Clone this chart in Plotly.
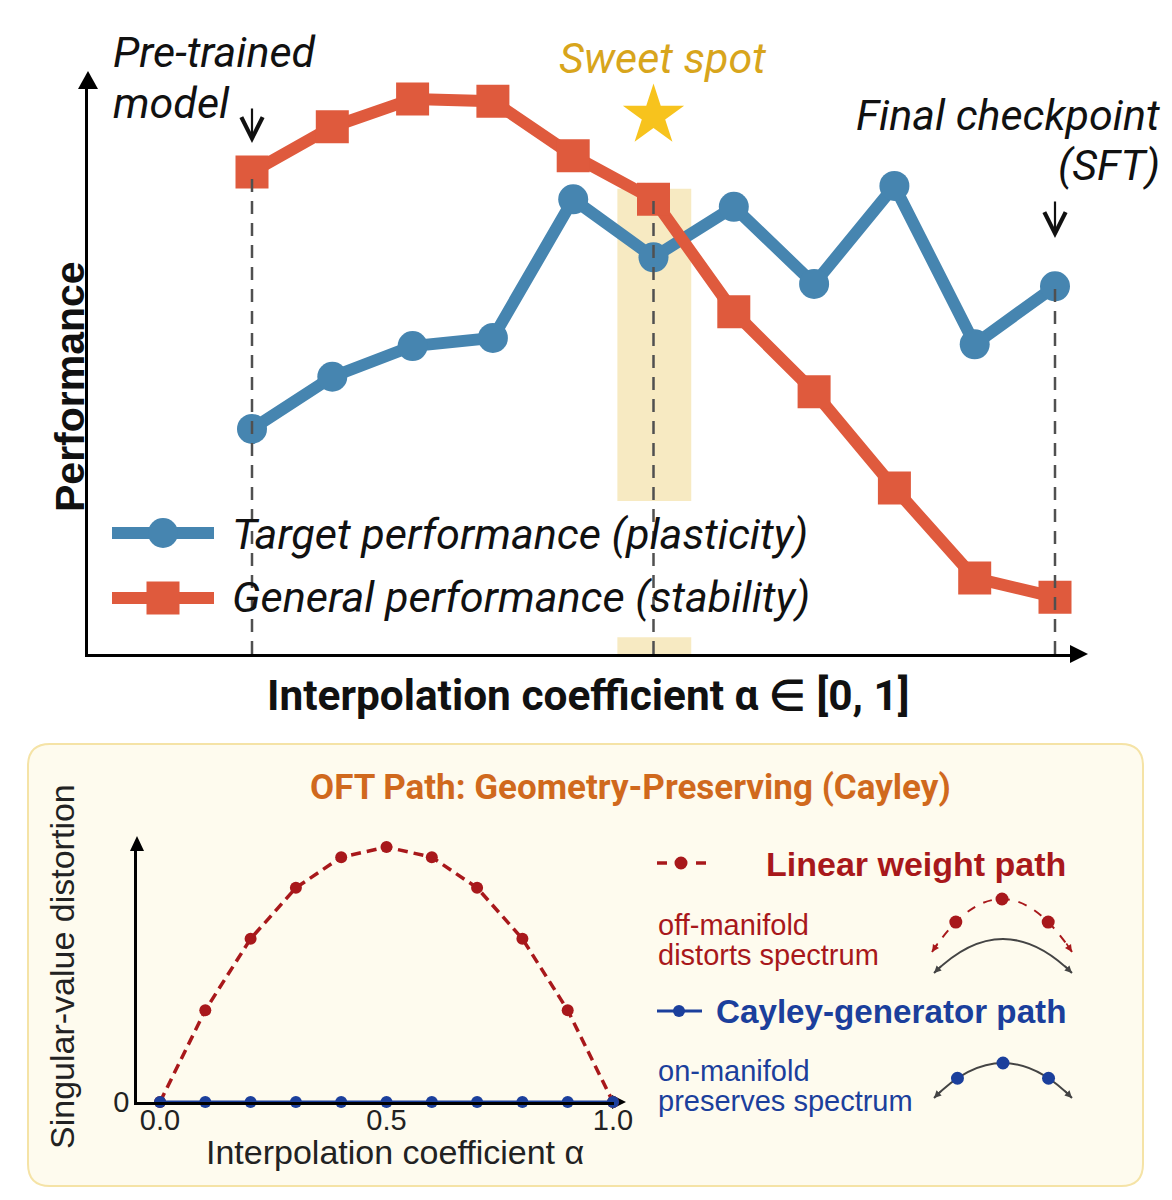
import plotly.graph_objects as go

# the page keeps the browser's 8px body margin, so the figure is drawn 8px in
OFF = 8
FW, FH = 1172 - 2 * OFF, 1200 - 2 * OFF

# interpolation coefficient alpha, 11 checkpoints
ALPHA = [0.0, 0.1, 0.2, 0.3, 0.4, 0.5, 0.6, 0.7, 0.8, 0.9, 1.0]
TARGET_PERF = [0.388, 0.478, 0.531, 0.545, 0.784, 0.684, 0.771, 0.638, 0.807, 0.534, 0.634]
GENERAL_PERF = [0.831, 0.909, 0.957, 0.953, 0.859, 0.784, 0.590, 0.452, 0.286, 0.131, 0.098]
SWEET_SPOT = 0.5
SWEET_BAND = [0.455, 0.547]
STAR_LEVEL = 0.928

# bottom panel: singular-value distortion along both paths
LINEAR_DIST = [0.0, 0.36, 0.64, 0.84, 0.96, 1.0, 0.96, 0.84, 0.64, 0.36, 0.0]
CAYLEY_DIST = [0.0, 0.0, 0.0, 0.0, 0.0, 0.0, 0.0, 0.0, 0.0, 0.0, 0.0]
BOTTOM_TICKS = [0.0, 0.5, 1.0]
BOTTOM_TICK_TEXT = ["0.0", "0.5", "1.0"]

BLUE = "#4685b0"
RED = "#df5a3d"
GOLD = "#d8a51c"
STAR = "#f7c31d"
DARK_RED = "#a8181b"
DARK_BLUE = "#1b3f9c"
ORANGE = "#d0691d"
INK = "#111111"
GREY = "#444444"


def fx(p):
    return (p - OFF) / FW


def fy(p):
    return 1 - (p - OFF) / FH


def bez(p0, c, p1, t):
    return ((1 - t) ** 2 * p0[0] + 2 * t * (1 - t) * c[0] + t ** 2 * p1[0],
            (1 - t) ** 2 * p0[1] + 2 * t * (1 - t) * c[1] + t ** 2 * p1[1])


fig = go.Figure()

# ---- top chart ----
fig.add_trace(go.Scatter(
    x=ALPHA, y=TARGET_PERF, mode="lines+markers", xaxis="x", yaxis="y",
    line=dict(color=BLUE, width=12), marker=dict(color=BLUE, size=30, symbol="circle"),
    cliponaxis=False, showlegend=False,
))
fig.add_trace(go.Scatter(
    x=ALPHA, y=GENERAL_PERF, mode="lines+markers", xaxis="x", yaxis="y",
    line=dict(color=RED, width=12), marker=dict(color=RED, size=33, symbol="square"),
    cliponaxis=False, showlegend=False,
))
fig.add_trace(go.Scatter(
    x=[SWEET_SPOT], y=[STAR_LEVEL], mode="markers", xaxis="x", yaxis="y",
    marker=dict(color=STAR, size=46, symbol="star", line=dict(width=0)),
    cliponaxis=False, showlegend=False,
))

# ---- bottom chart ----
fig.add_trace(go.Scatter(
    x=ALPHA, y=LINEAR_DIST, mode="lines+markers", xaxis="x2", yaxis="y2",
    line=dict(color=DARK_RED, width=3.5, dash="10px,6px"), marker=dict(color=DARK_RED, size=12),
    cliponaxis=False, showlegend=False,
))
fig.add_trace(go.Scatter(
    x=ALPHA, y=CAYLEY_DIST, mode="lines+markers", xaxis="x2", yaxis="y2",
    line=dict(color=DARK_BLUE, width=3), marker=dict(color=DARK_BLUE, size=12),
    cliponaxis=False, showlegend=False,
))

shapes = []

# bottom panel background box (rounded)
bx0, by0, bx1, by1, r = 28, 744, 1143, 1186, 22
box_path = (
    f"M {fx(bx0 + r)},{fy(by0)} L {fx(bx1 - r)},{fy(by0)} Q {fx(bx1)},{fy(by0)} {fx(bx1)},{fy(by0 + r)} "
    f"L {fx(bx1)},{fy(by1 - r)} Q {fx(bx1)},{fy(by1)} {fx(bx1 - r)},{fy(by1)} "
    f"L {fx(bx0 + r)},{fy(by1)} Q {fx(bx0)},{fy(by1)} {fx(bx0)},{fy(by1 - r)} "
    f"L {fx(bx0)},{fy(by0 + r)} Q {fx(bx0)},{fy(by0)} {fx(bx0 + r)},{fy(by0)} Z"
)
shapes.append(dict(type="path", path=box_path, xref="paper", yref="paper",
                   fillcolor="#fefbee", line=dict(color="#f5e3a6", width=2), layer="below"))

# sweet spot band (broken behind the legend)
for y0, y1 in [(0.0, 0.029), (0.264, 0.802)]:
    shapes.append(dict(type="rect", xref="x", yref="y", x0=SWEET_BAND[0], x1=SWEET_BAND[1], y0=y0, y1=y1,
                       fillcolor="#f7eac2", line=dict(width=0), layer="below"))

# dashed drop lines at pre-trained, sweet spot and final checkpoint
for xv, yv in [(ALPHA[0], GENERAL_PERF[0]), (ALPHA[5], GENERAL_PERF[5]), (ALPHA[-1], TARGET_PERF[-1])]:
    shapes.append(dict(type="line", xref="x", yref="y", x0=xv, x1=xv, y0=0, y1=yv,
                       line=dict(color="#505050", width=2.5, dash="13px,9px"), layer="above"))


# axis arrowheads
def tri(tip, d, size=10, length=18):
    x, y = tip
    if d == "up":
        pts = [(x, y), (x - size, y + length), (x + size, y + length)]
    else:
        pts = [(x, y), (x - length, y - size), (x - length, y + size)]
    p = "M " + " L ".join(f"{fx(a)},{fy(b)}" for a, b in pts) + " Z"
    return dict(type="path", path=p, xref="paper", yref="paper", fillcolor="black",
                line=dict(width=0), layer="below")


shapes.append(tri((88, 71), "up"))
shapes.append(tri((1088, 654), "right", size=9, length=18))
shapes.append(tri((137, 836), "up", size=7, length=15))
shapes.append(tri((626, 1102), "right", size=7, length=14))

# top legend glyphs
for yc, col, kind in [(533, BLUE, "circle"), (598, RED, "rect")]:
    shapes.append(dict(type="line", xref="paper", yref="paper", x0=fx(112), x1=fx(214), y0=fy(yc), y1=fy(yc),
                       line=dict(color=col, width=12)))
    hs = 15 if kind == "circle" else 16.5
    shapes.append(dict(type=kind, xref="paper", yref="paper", x0=fx(163 - hs), x1=fx(163 + hs),
                       y0=fy(yc + hs), y1=fy(yc - hs), fillcolor=col, line=dict(width=0)))

# bottom legend glyphs
for xa, xb in [(657, 667), (696, 706)]:
    shapes.append(dict(type="line", xref="paper", yref="paper", x0=fx(xa), x1=fx(xb), y0=fy(863), y1=fy(863),
                       line=dict(color=DARK_RED, width=3.5)))
shapes.append(dict(type="line", xref="paper", yref="paper", x0=fx(657), x1=fx(702), y0=fy(1011), y1=fy(1011),
                   line=dict(color=DARK_BLUE, width=3)))


def dot(x, y, col, rad=6.5):
    return dict(type="circle", xref="paper", yref="paper", x0=fx(x - rad), x1=fx(x + rad),
                y0=fy(y + rad), y1=fy(y - rad), fillcolor=col, line=dict(width=0))


shapes.append(dot(681, 863, DARK_RED))
shapes.append(dot(679, 1011, DARK_BLUE, 6))

# small arc illustrations
arcs = [
    ((932, 952), (1002, 846), (1072, 952), DARK_RED, "dash", DARK_RED),
    ((934, 973), (1003, 905), (1072, 973), GREY, "solid", None),
    ((934, 1098), (1003, 1028), (1072, 1098), GREY, "solid", DARK_BLUE),
]
annotations = []
for p0, c, p1, col, dash, dcol in arcs:
    path = f"M {fx(p0[0])},{fy(p0[1])} Q {fx(c[0])},{fy(c[1])} {fx(p1[0])},{fy(p1[1])}"
    shapes.append(dict(type="path", path=path, xref="paper", yref="paper",
                       line=dict(color=col, width=2, dash=dash)))
    if dcol:
        for t in (0.17, 0.5, 0.83):
            bxp, byp = bez(p0, c, p1, t)
            shapes.append(dot(bxp, byp, dcol, 6.5))
    for end in (p0, p1):
        dx, dy = end[0] - c[0], end[1] - c[1]
        n = (dx * dx + dy * dy) ** 0.5
        annotations.append(dict(x=fx(end[0]), y=fy(end[1]), xref="paper", yref="paper", text="",
                                showarrow=True, arrowhead=2, arrowsize=0.9, arrowwidth=1.6, arrowcolor=col,
                                ax=-dx / n * 12, ay=-dy / n * 12))


def label(text, x, y, size, color=INK, anchor="left", family="Roboto", italic=False, bold=False, angle=0):
    annotations.append(dict(
        text=text, x=fx(x), y=fy(y), xref="paper", yref="paper", showarrow=False,
        xanchor=anchor, yanchor="middle", textangle=angle,
        font=dict(family=family, size=size, color=color,
                  style="italic" if italic else "normal", weight="bold" if bold else "normal"),
    ))


# top annotations
label("Pre-trained", 111, 52, 43, italic=True)
label("model", 111, 103, 43, italic=True)
label("Sweet spot", 662, 58, 43, color=GOLD, anchor="center", italic=True)
label("Final checkpoint", 1162, 115, 43, anchor="right", italic=True)
label("(SFT)", 1162, 165, 43, anchor="right", italic=True)
label("Target performance (plasticity)", 230, 534, 43.2, italic=True)
label("General performance (stability)", 230, 598, 43.2, italic=True)
label("Performance", 45, 387, 41, family="Liberation Sans", bold=True, angle=-90)
label("Interpolation coefficient α ∈ [0, 1]", 588, 696, 42.4, anchor="center", bold=True)
for xa, ya, ln in [(252, 143, 36), (1055, 238, 38)]:
    annotations.append(dict(x=fx(xa), y=fy(ya), xref="paper", yref="paper", text="", showarrow=True,
                            arrowhead=5, arrowsize=1.9, arrowwidth=2.2, arrowcolor=INK, ax=0, ay=-ln))

# bottom annotations
label("OFT Path: Geometry-Preserving (Cayley)", 630, 787, 35, color=ORANGE, anchor="center", bold=True)
label("Singular-value distortion", 62, 967, 34, color="#222222", anchor="center", family="Liberation Sans", angle=-90)
label("Interpolation coefficient α", 395, 1152, 34, color="#222222", anchor="center", family="Liberation Sans")
label("Linear weight path", 1068, 864, 34, color=DARK_RED, anchor="right", family="Liberation Sans", bold=True)
label("off-manifold", 656, 925, 29, color=DARK_RED, family="Liberation Sans")
label("distorts spectrum", 656, 955, 29, color=DARK_RED, family="Liberation Sans")
label("Cayley-generator path", 1068, 1011, 33.2, color=DARK_BLUE, anchor="right", family="Liberation Sans", bold=True)
label("on-manifold", 656, 1071, 29, color=DARK_BLUE, family="Liberation Sans")
label("preserves spectrum", 656, 1101, 29, color=DARK_BLUE, family="Liberation Sans")

# axis geometry (pixel positions of the library axes)
top_x0_px, top_unit = 252, 803
top_y0_px, top_unit_y = 654, 580
bot_x0_px, bot_unit = 160, 453
bot_y0_px, bot_unit_y = 1102, 255

fig.update_layout(
    width=FW, height=FH,
    margin=dict(l=0, r=0, t=0, b=0, autoexpand=False),
    paper_bgcolor="white", plot_bgcolor="rgba(0,0,0,0)",
    shapes=shapes, annotations=annotations,
    xaxis=dict(domain=[fx(88), fx(1072)],
               range=[(88 - top_x0_px) / top_unit, (1072 - top_x0_px) / top_unit],
               showline=True, linecolor="black", linewidth=3, showgrid=False, zeroline=False,
               showticklabels=False, ticks="", anchor="y", automargin=False),
    yaxis=dict(domain=[fy(654), fy(86)], range=[0, (top_y0_px - 86) / top_unit_y],
               showline=True, linecolor="black", linewidth=3, showgrid=False, zeroline=False,
               showticklabels=False, ticks="", anchor="x", automargin=False),
    xaxis2=dict(domain=[fx(137), fx(614)],
                range=[(137 - bot_x0_px) / bot_unit, (614 - bot_x0_px) / bot_unit],
                showline=True, linecolor="black", linewidth=2.5, showgrid=False, zeroline=False,
                tickvals=BOTTOM_TICKS, ticktext=BOTTOM_TICK_TEXT, ticks="", ticklabelstandoff=-10,
                tickfont=dict(family="Liberation Sans", size=29, color="#222222"), anchor="y2",
                automargin=False),
    yaxis2=dict(domain=[fy(1102), fy(845)], range=[0, (bot_y0_px - 845) / bot_unit_y],
                showline=True, linecolor="black", linewidth=2.5, showgrid=False, zeroline=False,
                tickvals=[0], ticktext=["0"], ticks="", ticklabelstandoff=-1,
                tickfont=dict(family="Liberation Sans", size=29, color="#222222"), anchor="x2",
                automargin=False),
)

fig.write_html("out.html", config={"displayModeBar": False})
